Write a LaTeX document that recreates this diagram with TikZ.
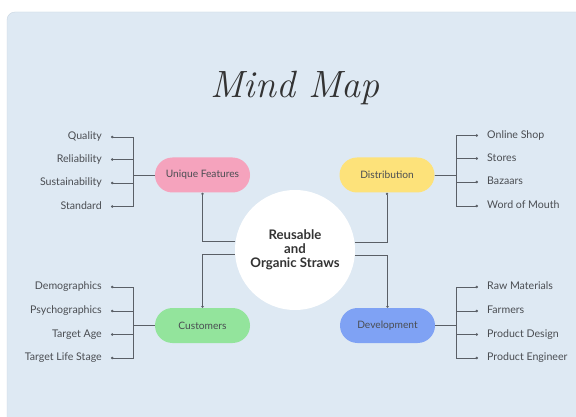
\documentclass[tikz,border=0pt]{standalone}
\usepackage{fontspec}
\setmainfont{Lato}
\usetikzlibrary{arrows.meta}
\definecolor{panel}{HTML}{DEE9F3}
\definecolor{panelborder}{HTML}{CAD7E3}
\definecolor{line}{HTML}{5A5F66}
\definecolor{txt}{HTML}{4A4D52}
\definecolor{pinkc}{HTML}{F5A3BD}
\definecolor{yellowc}{HTML}{FDE27A}
\definecolor{greenc}{HTML}{93E49C}
\definecolor{bluec}{HTML}{7FA2F4}
\begin{document}
\begin{tikzpicture}[x=1pt,y=-1pt,
  pill/.style={rounded corners=17.5pt, minimum width=95pt, minimum height=35pt,
    inner sep=0pt, font=\fontsize{10.2}{12}\selectfont, text=txt},
  leafL/.style={anchor=east, inner sep=0pt, text height=7.5pt, text depth=2pt,
    font=\fontsize{10.6}{12}\selectfont, text=txt},
  leafR/.style={anchor=west, inner sep=0pt, text height=7.5pt, text depth=2pt,
    font=\fontsize{10.6}{12}\selectfont, text=txt},
  conn/.style={draw=line, line width=0.6pt, -{Circle[length=2.4pt]}}]
\useasboundingbox (0,0) rectangle (576,417);
\begin{scope}
  \clip (0,0) rectangle (576,417);
  \fill[white] (0,0) rectangle (576,417);
  \draw[draw=panelborder, fill=panel, rounded corners=8pt] (7,12) rectangle (600,440);
\end{scope}

% title
\node[text=black!80, font=\fontfamily{lmr}\fontshape{it}\fontsize{38}{42}\selectfont] (title) at (295,88) {Mind Map};

% centre
\node[circle, fill=white, minimum size=120pt, inner sep=0pt, align=center, text=black!80,
  font=\bfseries\fontsize{13.2}{13.8}\selectfont] (c) at (295,250) {Reusable\\and\\Organic Straws};

% branches
\node[pill, fill=pinkc] (uf) at (202.5,175) {Unique Features};
\node[pill, fill=yellowc] (di) at (387,175) {Distribution};
\node[pill, fill=greenc] (cu) at (202.5,325.5) {Customers};
\node[pill, fill=bluec] (de) at (387.5,325.5) {Development};

% leaves left top
\node[leafL] (q) at (102,137) {Quality};
\node[leafL] (r) at (102,159.5) {Reliability};
\node[leafL] (s) at (102,183) {Sustainability};
\node[leafL] (st) at (102,206.5) {Standard};
% leaves right top
\node[leafR] (os) at (487,135.5) {Online Shop};
\node[leafR] (so) at (487,158.5) {Stores};
\node[leafR] (ba) at (487,182) {Bazaars};
\node[leafR] (wm) at (487,206) {Word of Mouth};
% leaves left bottom
\node[leafL] (dm) at (102,287) {Demographics};
\node[leafL] (ps) at (102,311) {Psychographics};
\node[leafL] (ta) at (102,334.5) {Target Age};
\node[leafL] (tl) at (102,358) {Target Life Stage};
% leaves right bottom
\node[leafR] (rm) at (487,287) {Raw Materials};
\node[leafR] (fa) at (487,311) {Farmers};
\node[leafR] (pd) at (487,334.5) {Product Design};
\node[leafR] (pe) at (487,358) {Product Engineer};

% centre to branches
\draw[conn] (c.172.3) -| (uf.south);
\draw[conn] (c.7.7) -| (di.south);
\draw[conn] (c.184.8) -| (cu.north);
\draw[conn] (c.355.2) -| (de.north);

% branch to leaves
\foreach \l in {q,r,s,st}
  \draw[conn] (uf.west) -- ++(-22,0) |- ([xshift=9pt]\l.east);
\foreach \l in {dm,ps,ta,tl}
  \draw[conn] (cu.west) -- ++(-22,0) |- ([xshift=9pt]\l.east);
\foreach \l in {os,so,ba,wm}
  \draw[conn] (di.east) -- ++(21.5,0) |- ([xshift=-9pt]\l.west);
\foreach \l in {rm,fa,pd,pe}
  \draw[conn] (de.east) -- ++(21.5,0) |- ([xshift=-9pt]\l.west);
\end{tikzpicture}
\end{document}
